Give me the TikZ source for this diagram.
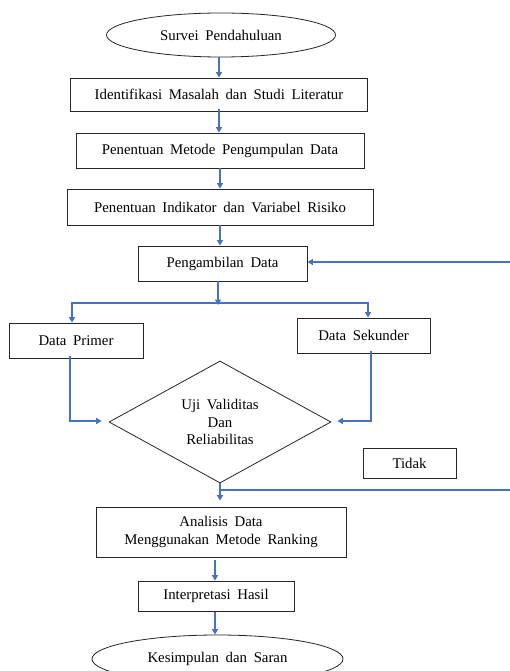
\documentclass[tikz,border=0pt]{standalone}
\usepackage{fontspec}
\setmainfont{Liberation Serif}[WordSpace=1.8]
\usepackage{xcolor}
\usetikzlibrary{arrows.meta,shapes.geometric}

\definecolor{flowblue}{HTML}{4472C4}

\begin{document}
\begin{tikzpicture}[
  x=1pt, y=-1pt,
  font=\fontsize{14.8}{17.5}\selectfont,
  % ---- boxes -------------------------------------------------------------
  procbox/.style={
    draw=black!85, line width=0.8pt, fill=white, align=center, inner sep=0pt},
  termbox/.style={procbox, ellipse},
  decbox/.style={procbox, diamond, aspect=1.8},
  % ---- edges -------------------------------------------------------------
  flow/.style={draw=flowblue, line width=1.5pt, -{Triangle[length=5.5pt,width=6pt]}},
  link/.style={draw=flowblue, line width=1.5pt},
]

\useasboundingbox (0,0) rectangle (510,671);

% ---- main column -----------------------------------------------------------
\node[termbox, minimum width=229, minimum height=44] (survei) at (221,35)
  {Survei Pendahuluan};
\node[procbox, minimum width=297, minimum height=33] (identifikasi) at (219,94.5)
  {Identifikasi Masalah dan Studi Literatur};
\node[procbox, minimum width=288, minimum height=35] (metode) at (220,150.5)
  {Penentuan Metode Pengumpulan Data};
\node[procbox, minimum width=306, minimum height=36] (indikator) at (220,207)
  {Penentuan Indikator dan Variabel Risiko};
\node[procbox, minimum width=169, minimum height=35] (ambil) at (222.5,263.5)
  {Pengambilan Data};

\draw[flow] (survei.south -| identifikasi.north) -- (identifikasi.north);
\draw[flow] ([yshift=2]identifikasi.south) -- (identifikasi.south |- metode.north);
\draw[flow] (metode) -- (indikator);
\draw[flow] (indikator.south) -- (indikator.south |- ambil.north);

% ---- data sources ------------------------------------------------------------
\node[procbox, minimum width=134, minimum height=35] (primer) at (76,340.5)
  {Data Primer};
\node[procbox, minimum width=133, minimum height=35] (sekunder) at (363.5,335.5)
  {Data Sekunder};

\coordinate (split) at (218,303);
\draw[flow] (ambil.south -| split) -- ([yshift=-2]split);
\draw[flow] (split) -| ([xshift=-4]primer.north);
\draw[flow] (split) -| ([xshift=4.5]sekunder.north);

% ---- test --------------------------------------------------------------------
\node[decbox, minimum width=222, minimum height=122] (uji) at (220,422)
  {Uji Validitas\\Dan\\Reliabilitas};
\node[procbox, minimum width=93, minimum height=30] (tidak) at (409.5,463)
  {Tidak};

\draw[flow] ([xshift=-6,yshift=2]primer.south) |- ([xshift=-7,yshift=1]uji.west);
\draw[flow] ([xshift=7.5,yshift=2]sekunder.south) |- ([xshift=6,yshift=1]uji.east);

% ---- loop back (Tidak) -------------------------------------------------------
\coordinate (loopout) at (510,490);
\coordinate (loopin)  at (510,262);
\draw[link] (uji.south |- loopout) -- (loopout);
\draw[flow] (loopin) -- (loopin -| ambil.east);

% ---- analysis ----------------------------------------------------------------
\node[procbox, minimum width=250, minimum height=50] (analisis) at (221,532)
  {Analisis Data\\Menggunakan Metode Ranking};
\node[procbox, minimum width=156, minimum height=30] (interp) at (216,596)
  {Interpretasi Hasil};
\node[termbox, minimum width=251, minimum height=48] (kesimpulan) at (217.5,659)
  {Kesimpulan dan Saran};

\draw[flow, shorten >=6pt] (uji.south) -- (analisis.north -| uji.south);
\draw[flow, shorten <=3pt] ([xshift=-1]interp.north |- analisis.south) -- ([xshift=-1]interp.north);
\draw[flow, shorten <=1pt] ([xshift=-1]interp.south) -- ([xshift=-1]interp.south |- kesimpulan.north);

\end{tikzpicture}
\end{document}
